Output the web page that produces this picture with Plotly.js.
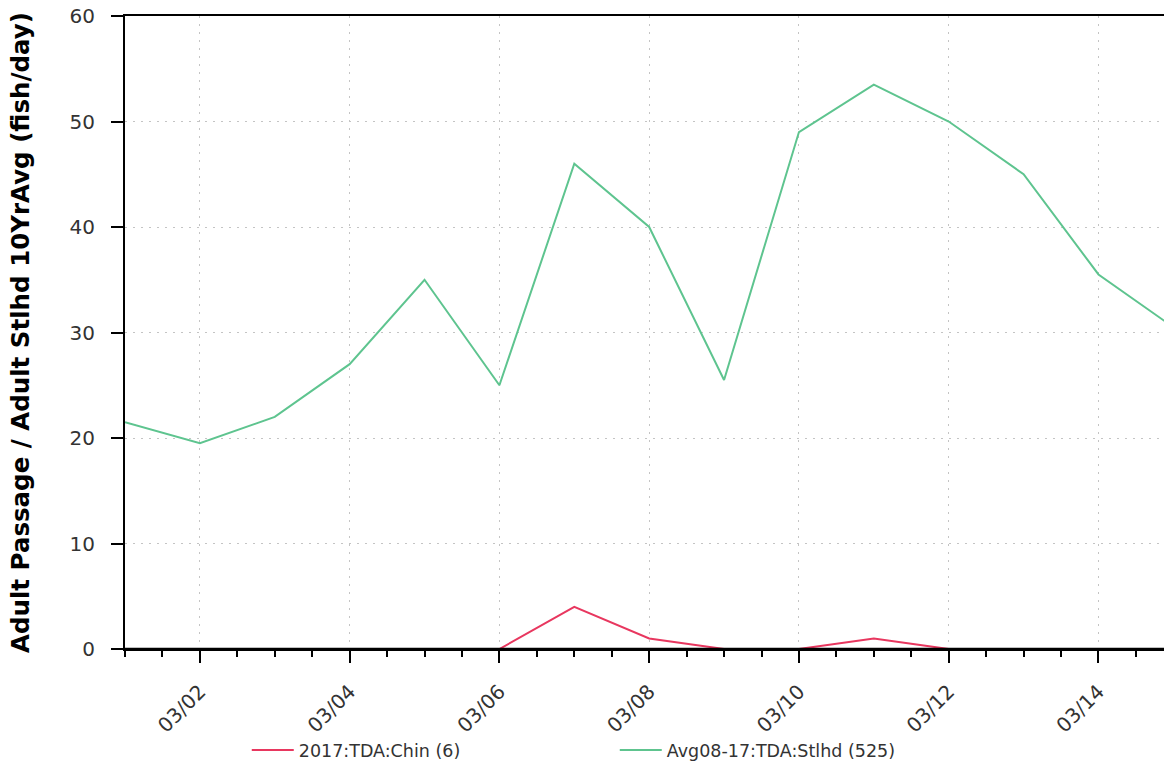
<!DOCTYPE html>
<html>
<head>
<meta charset="utf-8">
<script src="https://cdn.plot.ly/plotly-3.0.1.min.js"></script>
<style>
html,body{margin:0;padding:0;background:#fff;}
#chart{width:1164px;height:768px;}
</style>
</head>
<body>
<div id="chart"></div>
<script>
const dates = ['2017-03-01','2017-03-02','2017-03-03','2017-03-04','2017-03-05','2017-03-06','2017-03-07','2017-03-08','2017-03-09','2017-03-10','2017-03-11','2017-03-12','2017-03-13','2017-03-14','2017-03-15'];
const chin2017 = [0,0,0,0,0,0,4,1,0,0,1,0,0,0,0];
const stlhdAvg = [21.5,19.5,22,27,35,25,46,40,25.5,49,53.5,50,45,35.5,30.5];
const seriesNames = ['2017:TDA:Chin (6)','Avg08-17:TDA:Stlhd (525)'];
const yTitle = 'Adult Passage / Adult Stlhd 10YrAvg (fish/day)';

const font = 'DejaVu Sans, Verdana, sans-serif';

const traces = [
  {x: dates, y: chin2017, name: seriesNames[0], type: 'scatter', mode: 'lines',
   line: {color: '#e8375f', width: 2}},
  {x: dates, y: stlhdAvg, name: seriesNames[1], type: 'scatter', mode: 'lines',
   line: {color: '#5ec48f', width: 2}}
];

const layout = {
  width: 1164, height: 768,
  margin: {l: 125, r: 0, t: 16, b: 119},
  paper_bgcolor: '#fff', plot_bgcolor: '#fff',
  font: {family: font, color: '#333', size: 20},
  showlegend: true,
  legend: {orientation: 'h', xref: 'container', yref: 'container', x: 0.212, y: 0, xanchor: 'left', yanchor: 'bottom',
           font: {family: font, size: 17.5, color: '#333'}, entrywidth: 311, itemwidth: 42, tracegroupgap: 0},
  shapes: [
    {type: 'line', layer: 'above', xref: 'paper', x0: 0, x1: 1, yref: 'y', y0: 0, y1: 0,
     line: {color: '#000', width: 2.5}}
  ],
  xaxis: {
    type: 'date',
    range: ['2017-03-01', '2017-03-14 21:00'],
    tick0: '2017-03-02', dtick: 172800000,
    tickformat: '%m/%d', tickangle: -45,
    ticks: 'outside', ticklen: 12, tickwidth: 2, tickcolor: '#000',
    showline: true, linecolor: '#000', linewidth: 2, mirror: true,
    showgrid: true, gridcolor: '#c4c4c4', griddash: '2px,6px', gridwidth: 1,
    zeroline: false,
    ticklabelstandoff: 9,
    tickfont: {family: font, size: 20, color: '#333'},
    minor: {tick0: '2017-03-01', dtick: 43200000, ticks: 'outside', ticklen: 6, tickwidth: 2, tickcolor: '#000', showgrid: false}
  },
  yaxis: {
    range: [0, 60], dtick: 10,
    ticks: 'outside', ticklen: 12, tickwidth: 2, tickcolor: '#000',
    showline: true, linecolor: '#000', linewidth: 2,
    showgrid: true, gridcolor: '#c4c4c4', griddash: '2px,6px', gridwidth: 1,
    zeroline: false,
    ticklabelstandoff: 12,
    tickfont: {family: font, size: 20, color: '#333'},
    title: {text: yTitle, font: {family: font, size: 24.5, color: '#000', weight: 'bold'}, standoff: 33}
  }
};

Plotly.newPlot('chart', traces, layout, {displayModeBar: false, staticPlot: true});
</script>
</body>
</html>
